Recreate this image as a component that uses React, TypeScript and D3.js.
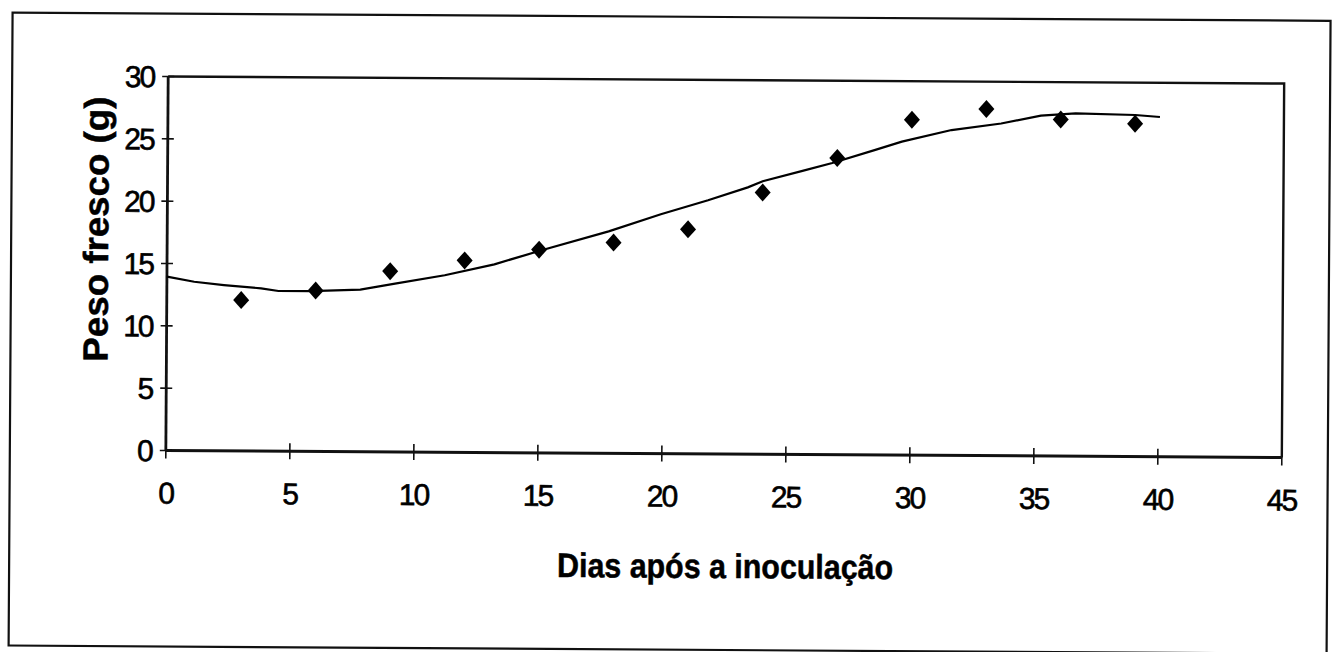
import React from "react";
import * as d3 from "d3";

// Observed data (diamonds)
const days = [3, 6, 9, 12, 15, 18, 21, 24, 27, 30, 33, 36, 39];
const pesoFresco = [12.1, 12.9, 14.5, 15.4, 16.3, 16.9, 18.0, 21.0, 23.8, 26.9, 27.8, 27.0, 26.7];

// Fitted curve
const fitDays = [0, 1.1, 2.3, 3.8, 4.5, 5.8, 7.8, 9.2, 11.2, 13.2, 15.1, 17.8, 19.9, 21.8, 23.4, 24, 25.6, 26.8, 28.5, 29.6, 31.6, 33.6, 35.2, 36.6, 39, 40];
const fitValues = [13.95, 13.55, 13.3, 13.05, 12.85, 12.85, 13.0, 13.5, 14.2, 15.1, 16.25, 17.8, 19.2, 20.35, 21.4, 21.9, 22.75, 23.4, 24.45, 25.15, 26.1, 26.65, 27.3, 27.5, 27.4, 27.25];

const xTicks = [0, 5, 10, 15, 20, 25, 30, 35, 40, 45];
const yTicks = [0, 5, 10, 15, 20, 25, 30];

const xTitle = "Dias após a inoculação";
const yTitle = "Peso fresco (g)";

const W = 1339;
const H = 652;
const plot = { left: 167, right: 1283, top: 80, bottom: 454 };
const font = "'Liberation Sans', Arial, Helvetica, sans-serif";

export default function App() {
  const x = d3.scaleLinear().domain([0, 45]).range([plot.left, plot.right]);
  const y = d3.scaleLinear().domain([0, 30]).range([plot.bottom, plot.top]);
  const line = d3
    .line<number>()
    .x((_, i) => x(fitDays[i]))
    .y((d) => y(d));
  const diamond = (cx: number, cy: number) =>
    `M${cx},${cy - 9}L${cx + 8},${cy}L${cx},${cy + 9}L${cx - 8},${cy}Z`;

  return (
    <svg
      width={W}
      height={H}
      style={{ position: "absolute", left: 0, top: 0, background: "#fff" }}
    >
      <rect x={0} y={0} width={W} height={H} fill="#ffffff" />
      <g transform="rotate(0.36, 724, 267)">
        {/* outer frame */}
        <rect x={11} y={17} width={1318} height={633} fill="none" stroke="#111" strokeWidth={2.2} />
        {/* plot area border (top & right) */}
        <path
          d={`M${plot.left},${plot.top}L${plot.right},${plot.top}L${plot.right},${plot.bottom}`}
          fill="none"
          stroke="#111"
          strokeWidth={2.4}
        />
        {/* axes */}
        <line x1={plot.left} x2={plot.left} y1={plot.top} y2={plot.bottom} stroke="#111" strokeWidth={2.8} />
        <line x1={plot.left} x2={plot.right} y1={plot.bottom} y2={plot.bottom} stroke="#111" strokeWidth={3} />
        {yTicks.map((t) => (
          <g key={"y" + t}>
            <line x1={plot.left - 6} x2={plot.left + 6} y1={y(t)} y2={y(t)} stroke="#111" strokeWidth={1.6} />
            <text
              x={153}
              y={y(t)}
              dy="0.36em"
              textAnchor="end"
              fontFamily={font}
              fontSize={30}
              letterSpacing={-2}
              fill="#000"
              stroke="#000"
              strokeWidth={0.6}
            >
              {t}
            </text>
          </g>
        ))}
        {xTicks.map((t) => (
          <g key={"x" + t}>
            <line x1={x(t)} x2={x(t)} y1={plot.bottom - 8} y2={plot.bottom + 8} stroke="#111" strokeWidth={1.6} />
            <text
              x={x(t)}
              y={507}
              textAnchor="middle"
              fontFamily={font}
              fontSize={30}
              letterSpacing={-2}
              fill="#000"
              stroke="#000"
              strokeWidth={0.6}
            >
              {t}
            </text>
          </g>
        ))}
        {/* fitted curve */}
        <path d={line(fitValues) || ""} fill="none" stroke="#000" strokeWidth={2.2} />
        {/* data points */}
        {days.map((d, i) => (
          <path key={"p" + i} d={diamond(x(d), y(pesoFresco[i]))} fill="#000" />
        ))}
        {/* titles */}
        <text
          x={727}
          y={578}
          textAnchor="middle"
          fontFamily={font}
          fontWeight="bold"
          fontSize={34}
          textLength={336}
          lengthAdjust="spacingAndGlyphs"
          fill="#000"
          stroke="#000"
          strokeWidth={0.5}
        >
          {xTitle}
        </text>
        <text
          transform={`translate(108, 233) rotate(-90)`}
          textAnchor="middle"
          fontFamily={font}
          fontWeight="bold"
          fontSize={35}
          textLength={265}
          lengthAdjust="spacingAndGlyphs"
          fill="#000"
          stroke="#000"
          strokeWidth={0.5}
        >
          {yTitle}
        </text>
      </g>
    </svg>
  );
}
